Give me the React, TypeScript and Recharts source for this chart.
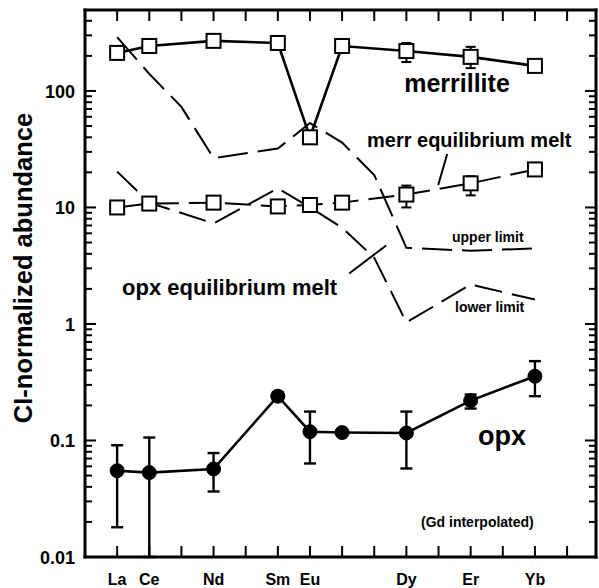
import { ErrorBar, Line, LineChart, ReferenceLine, XAxis, YAxis } from 'recharts'

// REE order, one slot per element (x index 0..14)
const elements = ['La', 'Ce', 'Pr', 'Nd', 'Pm', 'Sm', 'Eu', 'Gd', 'Tb', 'Dy', 'Ho', 'Er', 'Tm', 'Yb', 'Lu']
const labelled = ['La', 'Ce', 'Nd', 'Sm', 'Eu', 'Dy', 'Er', 'Yb']

const merrillite = [212, 243, null, 269, null, 258, 40, 243, null, 220, null, 196, null, 164, null]
const merrHigh = [null, null, null, null, null, null, null, null, null, 258, null, 239, null, null, null]
const merrLow = [null, null, null, null, null, null, null, null, null, 177, null, 157, null, null, null]

const merrMelt = [10, 10.8, null, 11, null, 10.2, 10.5, 11, null, 12.9, null, 16.1, null, 21.2, null]
const meltHigh = [null, null, null, null, null, null, null, null, null, 15.4, null, 18.5, null, null, null]
const meltLow = [null, null, null, null, null, null, null, null, null, 10, null, 12.7, null, null, null]

const upperLimit = [290, 140, 73, 26.5, null, 32, 53, 36, 19, 4.5, null, 4.25, null, 4.45, null]
const lowerLimit = [20.3, 11, null, 7.3, null, 14.6, 10, 6.7, 3.7, 1.03, null, 2.18, null, 1.62, null]

const opx = [0.055, 0.053, null, 0.057, null, 0.24, 0.119, 0.117, null, 0.116, null, 0.22, null, 0.356, null]
const opxHigh = [0.091, 0.106, null, 0.078, null, 0.26, 0.177, null, null, 0.177, null, 0.248, null, 0.48, null]
const opxLow = [0.018, 0.01, null, 0.0365, null, 0.22, 0.0635, null, null, 0.0575, null, 0.188, null, 0.24, null]

const majorTicks = [0.01, 0.1, 1, 10, 100]
const minorSteps = [2, 3, 4, 5, 6, 7, 8, 9]
const yMax = 495

const yTicks = [
  ...majorTicks,
  ...majorTicks.flatMap((m) => minorSteps.map((s) => +(m * s).toPrecision(3))).filter((v) => v < yMax),
]
const xTicks = elements.map((_, i) => i)

const err = (v: number | null, hi: number | null, lo: number | null) =>
  v != null && hi != null && lo != null ? [v - lo, hi - v] : undefined

const data = elements.map((el, i) => ({
  i,
  el,
  merr: merrillite[i],
  merrErr: err(merrillite[i], merrHigh[i], merrLow[i]),
  melt: merrMelt[i],
  meltErr: err(merrMelt[i], meltHigh[i], meltLow[i]),
  up: upperLimit[i],
  lo: lowerLimit[i],
  opx: opx[i],
  opxErr: err(opx[i], opxHigh[i], opxLow[i]),
}))

const font = "'Liberation Sans', Arial, Helvetica, sans-serif"
const isMajor = (v: number) => majorTicks.some((m) => Math.abs(m - v) < m * 1e-6)

const LeftTick = (p: any) => {
  const major = isMajor(p.payload.value)
  return (
    <g>
      <line x1={p.x} x2={p.x + (major ? 11 : 7)} y1={p.y} y2={p.y} stroke="#000" strokeWidth={2} />
      {major && (
        <text x={p.x - 10} y={p.y + 7} textAnchor="end" fontSize={18} fontWeight="bold" fontFamily={font} fill="#000">
          {String(p.payload.value)}
        </text>
      )}
    </g>
  )
}

const RightTick = (p: any) => {
  const major = isMajor(p.payload.value)
  return <line x1={p.x} x2={p.x - (major ? 11 : 7)} y1={p.y} y2={p.y} stroke="#000" strokeWidth={2} />
}

const BottomTick = (p: any) => {
  const el = elements[p.payload.value]
  return (
    <g>
      <line x1={p.x} x2={p.x} y1={p.y} y2={p.y - 11} stroke="#000" strokeWidth={2} />
      {labelled.includes(el) && (
        <text x={p.x} y={p.y + 28} textAnchor="middle" fontSize={16} fontWeight="bold" fontFamily={font} fill="#000">
          {el}
        </text>
      )}
    </g>
  )
}

const TopTick = (p: any) => <line x1={p.x} x2={p.x} y1={p.y} y2={p.y + 11} stroke="#000" strokeWidth={2} />

const Square = (p: any) => {
  if (p.cx == null || p.cy == null || p.value == null) return <g key={p.index} />
  return <rect key={p.index} x={p.cx - 7} y={p.cy - 7} width={14} height={14} fill="#fff" stroke="#000" strokeWidth={2} />
}

const axisLine = { stroke: '#000', strokeWidth: 3, strokeLinecap: 'square' as const }

export default function App() {
  return (
    <div style={{ position: 'absolute', left: 0, top: 0, width: 599, height: 588, background: '#fff' }}>
      <LineChart width={599} height={588} data={data} margin={{ top: 0, right: 0, bottom: 0, left: 0 }}>
        <XAxis dataKey="i" type="number" domain={[-1, 14.9]} ticks={xTicks} interval={0} height={31}
          allowDataOverflow axisLine={axisLine} tickLine={false} tickSize={0} tickMargin={0} tick={BottomTick} />
        <XAxis xAxisId="top" orientation="top" dataKey="i" type="number" domain={[-1, 14.9]} ticks={xTicks}
          interval={0} height={10} allowDataOverflow axisLine={axisLine} tickLine={false} tickSize={0}
          tickMargin={0} tick={TopTick} />
        <YAxis type="number" scale="log" domain={[0.01, yMax]} allowDataOverflow ticks={yTicks} interval={0}
          width={85} axisLine={axisLine} tickLine={false} tickSize={0} tickMargin={0} tick={LeftTick} />
        <YAxis yAxisId="right" orientation="right" type="number" scale="log" domain={[0.01, yMax]}
          allowDataOverflow ticks={yTicks} interval={0} width={3} axisLine={axisLine} tickLine={false}
          tickSize={0} tickMargin={0} tick={RightTick} />

        <ReferenceLine segment={[{ x: 10.27, y: 28.8 }, { x: 9.99, y: 15.6 }]} stroke="#000" strokeWidth={2} ifOverflow="visible" />
        <ReferenceLine segment={[{ x: 7.22, y: 2.71 }, { x: 8.37, y: 4.72 }]} stroke="#000" strokeWidth={2} ifOverflow="visible" />

        <Line dataKey="up" stroke="#000" strokeWidth={2} strokeDasharray="30 10" dot={false} connectNulls isAnimationActive={false} />
        <Line dataKey="lo" stroke="#000" strokeWidth={2} strokeDasharray="28 10" dot={false} connectNulls isAnimationActive={false} />
        <Line dataKey="melt" stroke="#000" strokeWidth={2} strokeDasharray="26 10" dot={Square} connectNulls isAnimationActive={false}>
          <ErrorBar dataKey="meltErr" direction="y" width={5} stroke="#000" strokeWidth={2} />
        </Line>
        <Line dataKey="merr" stroke="#000" strokeWidth={2.6} dot={Square} connectNulls isAnimationActive={false}>
          <ErrorBar dataKey="merrErr" direction="y" width={5} stroke="#000" strokeWidth={2} />
        </Line>
        <Line dataKey="opx" stroke="#000" strokeWidth={2.6} dot={{ r: 7, fill: '#000', stroke: '#000', strokeWidth: 1 }}
          connectNulls isAnimationActive={false}>
          <ErrorBar dataKey="opxErr" direction="y" width={6} stroke="#000" strokeWidth={2.4} />
        </Line>
      </LineChart>

      <svg width={599} height={588} style={{ position: 'absolute', left: 0, top: 0, pointerEvents: 'none' }}
        fontFamily={font} fontWeight="bold" fill="#000">
        <text x={32} y={268} fontSize={25.5} textAnchor="middle" transform="rotate(-90 32 268)">CI-normalized abundance</text>
        <text x={457} y={92} fontSize={25} textAnchor="middle">merrillite</text>
        <text x={367} y={147} fontSize={20}>merr equilibrium melt</text>
        <text x={452} y={242} fontSize={14}>upper limit</text>
        <text x={455} y={312} fontSize={14}>lower limit</text>
        <text x={122} y={295} fontSize={22}>opx equilibrium melt</text>
        <text x={478} y={445} fontSize={27}>opx</text>
        <text x={421} y={527} fontSize={14}>(Gd interpolated)</text>
      </svg>
    </div>
  )
}
